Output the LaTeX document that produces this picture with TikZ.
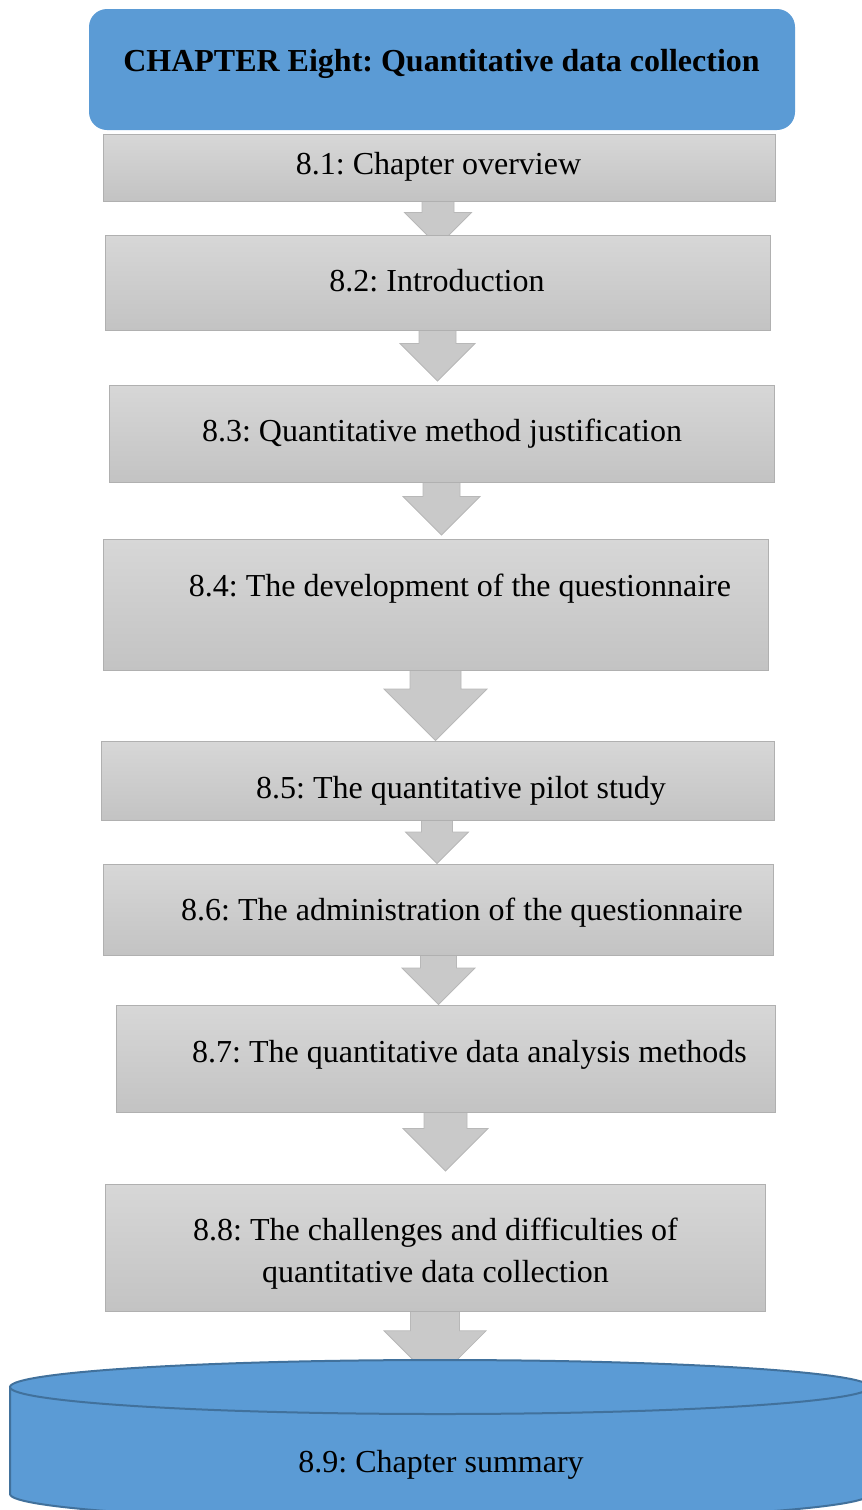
\documentclass[tikz,border=0pt]{standalone}
\usepackage{fontspec}
\setmainfont{Liberation Serif}
\usetikzlibrary{calc,backgrounds}
\frenchspacing

\definecolor{headblue}{HTML}{5B9BD5}
\definecolor{cylline}{HTML}{41719C}
\definecolor{boxtop}{HTML}{D7D7D7}
\definecolor{boxbot}{HTML}{C3C3C3}
\definecolor{boxline}{HTML}{B0B0B0}
\definecolor{arrfill}{HTML}{C9C9C9}
\definecolor{arrline}{HTML}{B8B8B8}

\tikzset{
  stagebox/.style={draw=boxline, line width=1pt, top color=boxtop, bottom color=boxbot,
    inner sep=0pt},
  headbox/.style={fill=headblue, draw=none, rounded corners=18pt, inner sep=0pt},
  lbl/.style={inner sep=0pt, font=\fontsize{32}{42}\selectfont, text=black},
  arrowshape/.style={fill=arrfill, draw=arrline, line width=0.8pt},
}

% block arrow from the bottom of #1 to the top of #2
% #3 centre x, #4 shaft half width, #5 head half width (= head length), #6 tip depth below #2's top
\newcommand\blockarrow[6]{%
  \path[arrowshape] let \p1=(#1.south), \p2=(#2.north) in
    ({#3pt-#4pt},{\y1+2pt}) -- ({#3pt+#4pt},{\y1+2pt})
    -- ({#3pt+#4pt},{\y2-(#6pt)+#5pt}) -- ({#3pt+#5pt},{\y2-(#6pt)+#5pt})
    -- ({#3pt},{\y2-(#6pt)})
    -- ({#3pt-#5pt},{\y2-(#6pt)+#5pt}) -- ({#3pt-#4pt},{\y2-(#6pt)+#5pt}) -- cycle;}

\begin{document}
\begin{tikzpicture}[x=1pt,y=-1pt]
\useasboundingbox (0,0) rectangle (862,1510);
\clip (0,0) rectangle (862,1510);

% chapter heading
\node[headbox, minimum width=706pt, minimum height=121pt] (head) at (442,69.5) {};
\node[lbl, anchor=base] (thead) at (441.5,71) {\bfseries CHAPTER Eight: Quantitative data collection};

% section boxes
\node[stagebox, minimum width=672pt, minimum height=67pt]  (b1) at (439,167.5) {};
\node[stagebox, minimum width=665pt, minimum height=95pt]  (b2) at (437.5,282.5) {};
\node[stagebox, minimum width=665pt, minimum height=97pt]  (b3) at (441.5,433.5) {};
\node[stagebox, minimum width=665pt, minimum height=131pt] (b4) at (435.5,604.5) {};
\node[stagebox, minimum width=673pt, minimum height=79pt]  (b5) at (437.5,780.5) {};
\node[stagebox, minimum width=670pt, minimum height=91pt]  (b6) at (438,909.5) {};
\node[stagebox, minimum width=659pt, minimum height=107pt] (b7) at (445.5,1058.5) {};
\node[stagebox, minimum width=660pt, minimum height=127pt] (b8) at (435,1247.5) {};

% extent of the summary cylinder
\node[inner sep=0pt, minimum width=860pt, minimum height=134pt] (cyl) at (440,1427) {};

% block arrows behind the boxes
\begin{pgfonlayer}{background}
\blockarrow{b1}{b2}{438}{16}{33.5}{11.5}
\blockarrow{b2}{b3}{437.5}{18.5}{37.5}{-3.5}
\blockarrow{b3}{b4}{441.5}{18.5}{38.5}{-3.5}
\blockarrow{b4}{b5}{435.5}{25.5}{51.5}{0}
\blockarrow{b5}{b6}{437}{15.5}{31.5}{0}
\blockarrow{b6}{b7}{438.5}{18}{36.5}{0}
\blockarrow{b7}{b8}{445.5}{21.5}{42.5}{-12.5}
\blockarrow{b8}{cyl}{435}{24.5}{51}{22}
\end{pgfonlayer}

% summary cylinder
\fill[headblue] (10,1387) -- (10,1494)
  arc[start angle=180, end angle=360, x radius=430pt, y radius=27pt]
  -- (870,1387) -- cycle;
\draw[cylline, line width=2pt] (10,1387) -- (10,1494)
  arc[start angle=180, end angle=360, x radius=430pt, y radius=27pt]
  -- (870,1387);
\draw[cylline, line width=2pt, fill=headblue] (440,1387) ellipse[x radius=430pt, y radius=27pt];

% labels
\node[lbl, anchor=base] (t1) at (438.5,174) {8.1: Chapter overview};
\node[lbl, anchor=base] (t2) at (437,291) {8.2: Introduction};
\node[lbl, anchor=base] (t3) at (442,441) {8.3: Quantitative method justification};
\node[lbl, anchor=base] (t4) at (460,596) {8.4: The development of the questionnaire};
\node[lbl, anchor=base] (t5) at (461,798) {8.5: The quantitative pilot study};
\node[lbl, anchor=base] (t6) at (462,920) {8.6: The administration of the questionnaire};
\node[lbl, anchor=base] (t7) at (469.5,1062) {8.7: The quantitative data analysis methods};
\node[lbl, align=center] (t8) at (435.5,1253.5) {8.8: The challenges and difficulties of\\quantitative data collection};
\node[lbl, anchor=base] (t9) at (441,1472) {8.9: Chapter summary};
\end{tikzpicture}
\end{document}
